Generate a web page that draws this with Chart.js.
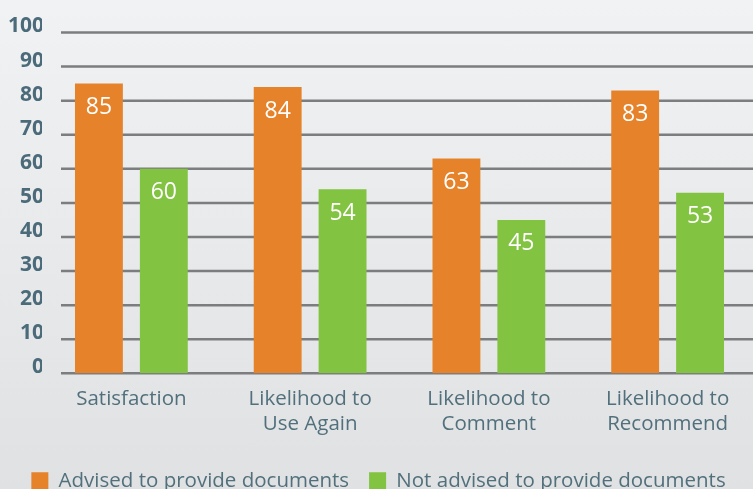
<!DOCTYPE html>
<html lang="en">
<head>
  <meta charset="UTF-8" />
  <title>Advised vs not advised</title>
  <script src="https://cdn.jsdelivr.net/npm/chart.js"></script>
  <style>
    body {
      margin: 0;
      overflow: hidden;
      background: linear-gradient(#f1f2f3, #dfe1e3);
      width: 753px;
      height: 489px;
    }
    .wrap {
      width: 760px;
      height: 489px;
      position: relative;
    }
  </style>
</head>
<body>
  <div class="wrap"><canvas id="chart"></canvas></div>
  <script>
    const categories = ['Satisfaction', ['Likelihood to', 'Use Again'], ['Likelihood to', 'Comment'], ['Likelihood to', 'Recommend']];
    const advised = [85, 84, 63, 83];
    const notAdvised = [60, 54, 45, 53];
    const seriesNames = ['Advised to provide documents', 'Not advised to provide documents'];
    const yTicks = { min: 0, max: 100, step: 10 };

    const textColor = '#52707c';

    // horizontal grid, starts a little right of the axis like the original
    const gridPlugin = {
      id: 'grid',
      beforeDatasetsDraw(chart) {
        const y = chart.scales.y;
        const area = chart.chartArea;
        const ctx = chart.ctx;
        ctx.save();
        ctx.strokeStyle = '#7b7d7f';
        ctx.lineWidth = 2.5;
        y.ticks.forEach(t => {
          const py = y.getPixelForValue(t.value);
          ctx.beginPath();
          ctx.moveTo(area.left + 19, py);
          ctx.lineTo(area.right, py);
          ctx.stroke();
        });
        ctx.restore();
      }
    };

    // values written in white inside the bars
    const valuePlugin = {
      id: 'values',
      afterDatasetsDraw(chart) {
        const ctx = chart.ctx;
        ctx.save();
        ctx.fillStyle = '#ffffff';
        ctx.font = '23px "Open Sans"';
        ctx.textAlign = 'center';
        ctx.textBaseline = 'middle';
        chart.data.datasets.forEach((ds, i) => {
          chart.getDatasetMeta(i).data.forEach((bar, j) => {
            ctx.fillText(ds.data[j], bar.x, bar.y + 24);
          });
        });
        ctx.restore();
      }
    };

    new Chart(document.getElementById('chart'), {
      type: 'bar',
      data: {
        labels: categories,
        datasets: [
          { label: seriesNames[0], data: advised, backgroundColor: '#e6832a', borderWidth: 0 },
          { label: seriesNames[1], data: notAdvised, backgroundColor: '#82c341', borderWidth: 0 }
        ]
      },
      options: {
        responsive: true,
        maintainAspectRatio: false,
        animation: false,
        categoryPercentage: 0.726,
        barPercentage: 0.738,
        layout: { padding: { top: 32.5, right: 3, bottom: -12, left: 0 } },
        plugins: {
          tooltip: { enabled: false },
          legend: {
            position: 'bottom',
            labels: {
              boxWidth: 17,
              boxHeight: 17,
              padding: 20,
              color: textColor,
              font: { family: 'Open Sans', size: 20.5 }
            }
          }
        },
        scales: {
          x: {
            grid: { display: false, drawTicks: false },
            border: { display: false },
            ticks: {
              color: textColor,
              padding: 14,
              maxRotation: 0,
              font: { family: 'Open Sans', size: 20.5, lineHeight: 1.2 }
            }
          },
          y: {
            min: yTicks.min,
            max: yTicks.max,
            grid: { display: false, drawTicks: false },
            border: { display: false },
            afterFit(scale) { scale.width = 42; },
            ticks: {
              stepSize: yTicks.step,
              color: '#4b6b7a',
              padding: -2,
              labelOffset: -6,
              font: { family: 'Open Sans', size: 21, weight: 'bold' }
            }
          }
        }
      },
      plugins: [gridPlugin, valuePlugin]
    });
  </script>
</body>
</html>
